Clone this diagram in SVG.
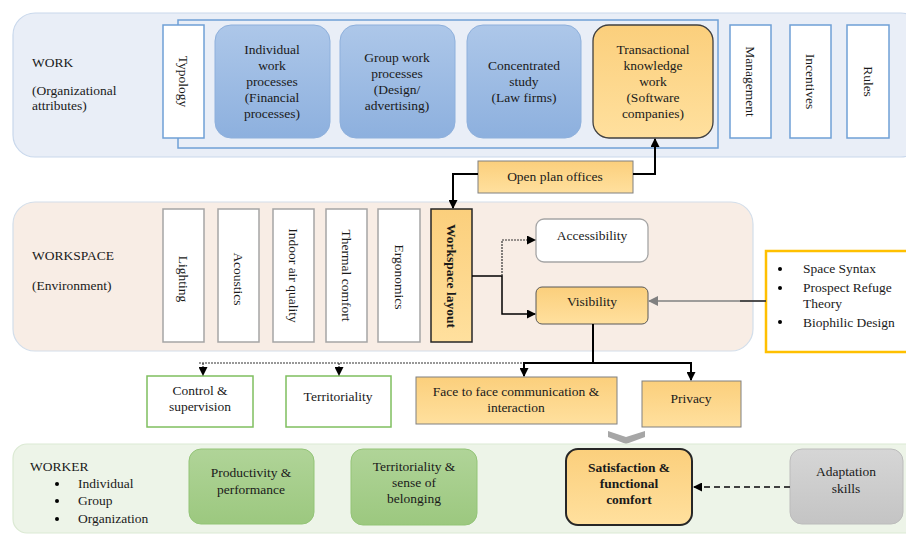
<svg xmlns="http://www.w3.org/2000/svg" width="906" height="535" viewBox="0 0 906 535" font-family="Liberation Serif, Times New Roman, serif">
<defs>
<linearGradient id="gOr" x1="0" y1="0" x2="0" y2="1"><stop offset="0" stop-color="#fbcf7c"/><stop offset="1" stop-color="#ffe09e"/></linearGradient>
<linearGradient id="gBl" x1="0" y1="0" x2="0" y2="1"><stop offset="0" stop-color="#adc7e9"/><stop offset="1" stop-color="#8db0de"/></linearGradient>
<linearGradient id="gGr" x1="0" y1="0" x2="0" y2="1"><stop offset="0" stop-color="#b0d498"/><stop offset="1" stop-color="#9cc87f"/></linearGradient>
<linearGradient id="gGy" x1="0" y1="0" x2="0" y2="1"><stop offset="0" stop-color="#d6d6d6"/><stop offset="1" stop-color="#c4c4c4"/></linearGradient>
<marker id="ah" markerUnits="userSpaceOnUse" markerWidth="9" markerHeight="9" refX="8" refY="4.5" orient="auto"><path d="M0,0 L9,4.5 L0,9 z" fill="#000"/></marker>
<marker id="ahg" markerUnits="userSpaceOnUse" markerWidth="10" markerHeight="10" refX="9" refY="5" orient="auto"><path d="M0,0 L10,5 L0,10 z" fill="#808080"/></marker>
<style>
text{font-family:'Liberation Serif','DejaVu Serif',serif;font-size:13.5px;fill:#1a1a1a}
.c{text-anchor:middle}
.r{text-anchor:middle;dominant-baseline:central}
.b{font-weight:bold}
.wb{fill:#fff;stroke:#6fa0d6;stroke-width:1.5}
.gb{fill:#fff;stroke:#a5a5a5;stroke-width:1.5}
.bl{fill:url(#gBl);stroke:#8eb0dc;stroke-width:1}
.or{fill:url(#gOr);stroke:#808080;stroke-width:1}
.gn{fill:url(#gGr);stroke:#93c477;stroke-width:1}
.gw{fill:#fff;stroke:#7fbf5f;stroke-width:1.5}
.k{fill:none;stroke:#000;stroke-width:2}
.d{fill:none;stroke:#333;stroke-width:1.2;stroke-dasharray:2 1}
</style>
</defs>

<g id="band-work">
<rect x="13" y="13" width="910" height="144" rx="22" fill="#e9eef7" stroke="#c9d8ec" stroke-width="1.2"/>
<text x="32" y="67">WORK</text>
<text x="32" y="95">(Organizational</text>
<text x="32" y="110">attributes)</text>
<rect x="178" y="20" width="540" height="128" fill="none" stroke="#6fa0d6" stroke-width="1.5"/>
</g>

<g id="typology"><rect class="wb" x="163" y="25" width="41" height="113"/><text class="r" transform="translate(183.5,81.5) rotate(90)">Typology</text></g>
<g id="individual"><rect class="bl" x="215" y="25" width="115" height="113" rx="16"/>
<text class="c" x="272" y="54">Individual</text><text class="c" x="272" y="70">work</text><text class="c" x="272" y="86">processes</text><text class="c" x="272" y="102">(Financial</text><text class="c" x="272" y="118">processes)</text></g>
<g id="group"><rect class="bl" x="340" y="25" width="115" height="113" rx="16"/>
<text class="c" x="397" y="62">Group work</text><text class="c" x="397" y="78">processes</text><text class="c" x="397" y="94">(Design/</text><text class="c" x="397" y="110">advertising)</text></g>
<g id="concentrated"><rect class="bl" x="467" y="25" width="114" height="113" rx="16"/>
<text class="c" x="524" y="70">Concentrated</text><text class="c" x="524" y="86">study</text><text class="c" x="524" y="102">(Law firms)</text></g>
<g id="transactional"><rect x="593" y="25" width="120" height="113" rx="16" fill="url(#gOr)" stroke="#404040" stroke-width="1.3"/>
<text class="c" x="653" y="54">Transactional</text><text class="c" x="653" y="70">knowledge</text><text class="c" x="653" y="86">work</text><text class="c" x="653" y="102">(Software</text><text class="c" x="653" y="118">companies)</text></g>
<g id="management"><rect class="wb" x="730" y="25" width="41" height="113"/><text class="r" transform="translate(750.5,81.5) rotate(90)">Management</text></g>
<g id="incentives"><rect class="wb" x="790" y="25" width="41" height="113"/><text class="r" transform="translate(810.5,81.5) rotate(90)">Incentives</text></g>
<g id="rules"><rect class="wb" x="847" y="25" width="42" height="113"/><text class="r" transform="translate(868,81.5) rotate(90)">Rules</text></g>

<g id="open-plan"><rect class="or" x="478" y="161" width="155" height="32"/><text class="c" x="555" y="181">Open plan offices</text></g>

<g id="band-workspace">
<rect x="13" y="202" width="740" height="149" rx="22" fill="#f8ede5" stroke="#d3deea" stroke-width="1.2"/>
<text x="32" y="260">WORKSPACE</text>
<text x="32" y="290">(Environment)</text>
</g>

<g id="lighting"><rect class="gb" x="163" y="209" width="41" height="133"/><text class="r" transform="translate(183.5,279) rotate(90)">Lighting</text></g>
<g id="acoustics"><rect class="gb" x="218" y="209" width="41" height="133"/><text class="r" transform="translate(238.5,279) rotate(90)">Acoustics</text></g>
<g id="indoor-air"><rect class="gb" x="273" y="209" width="41" height="133"/><text class="r" transform="translate(293.5,275.5) rotate(90)">Indoor air quality</text></g>
<g id="thermal"><rect class="gb" x="326" y="209" width="41" height="133"/><text class="r" transform="translate(346.5,275.5) rotate(90)">Thermal comfort</text></g>
<g id="ergonomics"><rect class="gb" x="378" y="209" width="42" height="133"/><text class="r" transform="translate(399,277) rotate(90)">Ergonomics</text></g>
<g id="workspace-layout"><rect x="431" y="209" width="41" height="133" fill="url(#gOr)" stroke="#262626" stroke-width="1.5"/><text class="r b" transform="translate(451.5,276) rotate(90)">Workspace layout</text></g>

<g id="accessibility"><rect x="536" y="219" width="112" height="43" rx="8" fill="#fff" stroke="#a5a5a5" stroke-width="1.3"/><text class="c" x="592" y="240">Accessibility</text></g>
<g id="visibility"><rect x="536" y="287" width="112" height="37" rx="6" fill="url(#gOr)" stroke="#595959" stroke-width="1"/><text class="c" x="592" y="306">Visibility</text></g>

<g id="theories">
<rect x="766" y="251" width="150" height="101" fill="#fff" stroke="#ffc000" stroke-width="2.5"/>
<circle cx="780" cy="269" r="2" fill="#000"/><text x="803" y="273">Space Syntax</text>
<circle cx="780" cy="288" r="2" fill="#000"/><text x="803" y="292">Prospect Refuge</text>
<text x="803" y="308">Theory</text>
<circle cx="780" cy="322" r="2" fill="#000"/><text x="803" y="327">Biophilic Design</text>
</g>

<g id="control"><rect class="gw" x="147" y="376" width="106" height="51"/><text class="c" x="200" y="395">Control &amp;</text><text class="c" x="200" y="411">supervision</text></g>
<g id="territoriality"><rect class="gw" x="286" y="376" width="105" height="51"/><text class="c" x="338" y="401">Territoriality</text></g>
<g id="face"><rect class="or" x="416" y="377" width="201" height="47"/><text class="c" x="516" y="396">Face to face communication &amp;</text><text class="c" x="516" y="412">interaction</text></g>
<g id="privacy"><rect class="or" x="642" y="381" width="99" height="46"/><text class="c" x="691" y="403">Privacy</text></g>

<g id="chevron"><polygon points="608,431 626,437 645,431 645,437 626,444 608,437" fill="#a6a6a6"/></g>

<g id="band-worker">
<rect x="13" y="444" width="910" height="89" rx="14" fill="#edf4e8" stroke="#dbe9d3" stroke-width="1.2"/>
<text x="30" y="471">WORKER</text>
<circle cx="57" cy="484" r="2" fill="#000"/><text x="78" y="488">Individual</text>
<circle cx="57" cy="501" r="2" fill="#000"/><text x="78" y="505">Group</text>
<circle cx="57" cy="519" r="2" fill="#000"/><text x="78" y="523">Organization</text>
</g>

<g id="productivity"><rect class="gn" x="189" y="449" width="125" height="75" rx="12"/><text class="c" x="251" y="477">Productivity &amp;</text><text class="c" x="251" y="494">performance</text></g>
<g id="territoriality-belonging"><rect class="gn" x="351" y="449" width="126" height="76" rx="12"/><text class="c" x="414" y="471">Territoriality &amp;</text><text class="c" x="414" y="487">sense of</text><text class="c" x="414" y="503">belonging</text></g>
<g id="satisfaction"><rect x="566" y="449" width="126" height="76" rx="12" fill="url(#gOr)" stroke="#262626" stroke-width="2"/><text class="c b" x="629" y="472">Satisfaction &amp;</text><text class="c b" x="629" y="488">functional</text><text class="c b" x="629" y="504">comfort</text></g>
<g id="adaptation"><rect x="790" y="449" width="113" height="75" rx="12" fill="url(#gGy)" stroke="#bcbcbc" stroke-width="1"/><text class="c" x="846" y="476">Adaptation</text><text class="c" x="846" y="493">skills</text></g>

<g id="connectors">
<path class="k" d="M633,174 H655 V139" marker-end="url(#ah)"/>
<path class="k" d="M478,174 H453 V208" marker-end="url(#ah)"/>
<path fill="none" stroke="#000" stroke-width="1.5" d="M472,276 H502 V314 H535" marker-end="url(#ah)"/>
<path class="d" d="M502,276 V240 H535" marker-end="url(#ah)"/>
<path fill="none" stroke="#808080" stroke-width="1.5" d="M766,301 H649" marker-end="url(#ahg)"/>
<path fill="none" stroke="#000" stroke-width="1" d="M766,301 H740"/>
<path class="k" d="M593,324 V363 H524 V376" marker-end="url(#ah)"/>
<path class="k" d="M593,363 H691 V380" marker-end="url(#ah)"/>
<path class="d" d="M199,363 H522"/>
<path class="d" d="M203,363 V375" marker-end="url(#ah)"/>
<path class="d" d="M339,363 V375" marker-end="url(#ah)"/>
<path fill="none" stroke="#404040" stroke-width="2" stroke-dasharray="6 4" d="M790,487 H694" marker-end="url(#ah)"/>
</g>
</svg>
